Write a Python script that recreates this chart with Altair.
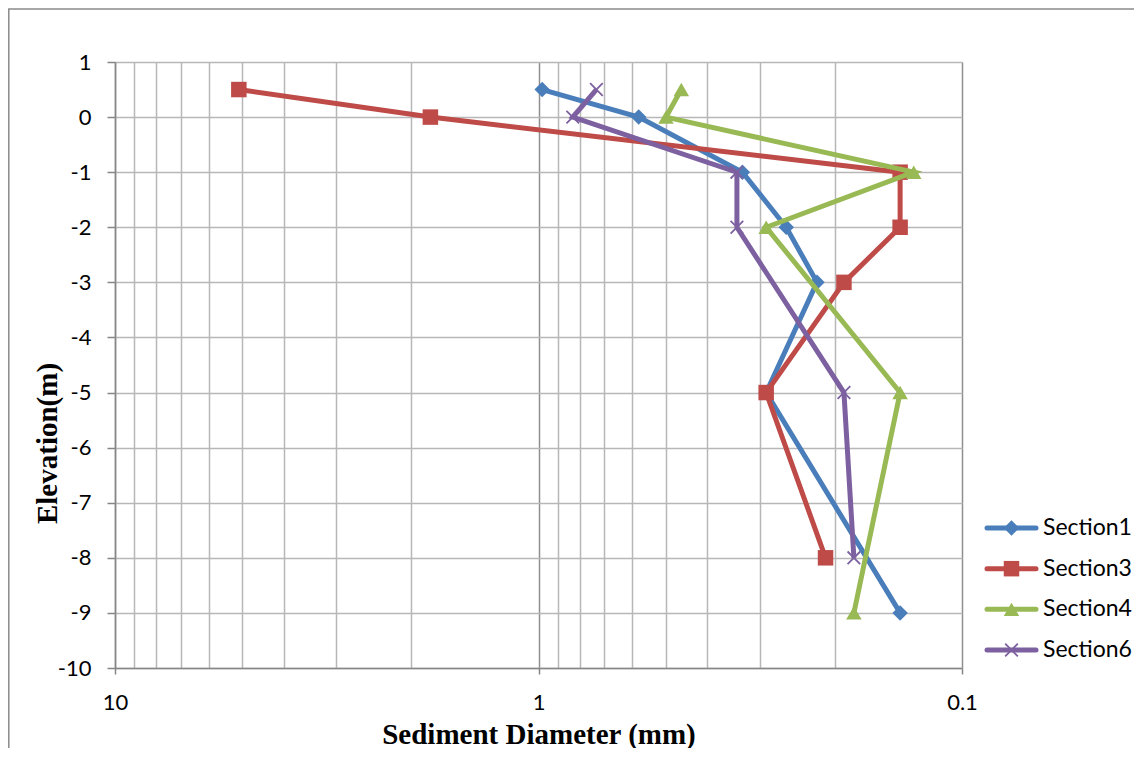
import altair as alt
import pandas as pd

series_names = ["Section1", "Section3", "Section4", "Section6"]
series_colors = ["#4A7EBB", "#BE4B48", "#98B954", "#7D60A0"]
series_shapes = ["diamond", "square", "triangle-up", "M-1,-1L1,1M-1,1L1,-1"]

elev_s1 = [0.5, 0, -1, -2, -3, -5, -9]
diam_s1 = [0.98, 0.58, 0.33, 0.26, 0.22, 0.29, 0.14]
elev_s3 = [0.5, 0, -1, -2, -3, -5, -8]
diam_s3 = [5.1, 1.8, 0.14, 0.14, 0.19, 0.29, 0.21]
elev_s4 = [0.5, 0, -1, -2, -5, -9]
diam_s4 = [0.46, 0.50, 0.13, 0.29, 0.14, 0.18]
elev_s6 = [0.5, 0, -1, -2, -5, -8]
diam_s6 = [0.73, 0.83, 0.34, 0.34, 0.19, 0.18]

x_ticks = [10, 9, 8, 7, 6, 5, 4, 3, 2, 1, 0.9, 0.8, 0.7, 0.6, 0.5, 0.4, 0.3, 0.2, 0.1]
y_ticks = [1, 0, -1, -2, -3, -4, -5, -6, -7, -8, -9, -10]

MAJOR = "abs(log(datum.value)/LN10 - round(log(datum.value)/LN10)) < 0.001"
AXIS_GRAY = "#868686"
GRID_GRAY = "#b7b7b7"

X = alt.X(
    "diam:Q",
    scale=alt.Scale(type="log", domain=[0.1, 10], reverse=True, nice=False),
    axis=alt.Axis(
        values=x_ticks,
        labelExpr="datum.value > 9.9 ? '10' : (datum.value > 0.99 && datum.value < 1.01 ? '1' : (datum.value < 0.101 ? '0.1' : ''))",
        labelOverlap=False,
        labelFlush=False,
        labelFont="Lato",
        labelFontSize=22,
        labelColor="black",
        labelPadding=18,
        tickSize={"condition": {"test": MAJOR, "value": 6}, "value": 0},
        tickColor=AXIS_GRAY,
        tickWidth=1.5,
        domainColor=AXIS_GRAY,
        domainWidth=1.5,
        gridColor={"condition": {"test": MAJOR, "value": "#8f8f8f"}, "value": GRID_GRAY},
        gridWidth=1.5,
        title="Sediment Diameter (mm)",
        titleFont="Liberation Serif",
        titleFontSize=29,
        titleFontWeight="bold",
        titleColor="black",
        titleAlign="center",
        titleBaseline="alphabetic",
        titleX=423.5,
        titleY=75,
    ),
)

Y = alt.Y(
    "elev:Q",
    scale=alt.Scale(domain=[-10, 1], nice=False, zero=False),
    axis=alt.Axis(
        values=y_ticks,
        labelExpr="'' + datum.value",
        labelFont="Lato",
        labelFontSize=22,
        labelColor="black",
        labelPadding=16,
        tickSize=8,
        tickColor=AXIS_GRAY,
        tickWidth=1.5,
        domainColor=AXIS_GRAY,
        domainWidth=1.5,
        gridColor=GRID_GRAY,
        gridWidth=1.5,
        title="Elevation(m)",
        titleFont="Liberation Serif",
        titleFontSize=29,
        titleFontWeight="bold",
        titleColor="black",
        titleAngle=270,
        titleAlign="center",
        titleBaseline="middle",
        titleX=-68,
        titleY=381,
    ),
)

all_elev = [elev_s1, elev_s3, elev_s4, elev_s6]
all_diam = [diam_s1, diam_s3, diam_s4, diam_s6]

def marker(chart, shp, col):
    is_x = shp.startswith("M")
    return chart.mark_point(
        shape=shp,
        filled=True,
        fill=col,
        stroke=col,
        strokeWidth=1.8 if is_x else 0,
        size=160 if is_x else 240,
        opacity=1,
    )

main_layers = []
for name, col, shp, elevs, diams in zip(series_names, series_colors, series_shapes, all_elev, all_diam):
    df = pd.DataFrame({"diam": diams, "elev": elevs, "idx": list(range(len(elevs)))})
    line = alt.Chart(df).mark_line(color=col, strokeWidth=5).encode(
        x=X, y=Y, order="idx:Q"
    )
    pts = marker(alt.Chart(df), shp, col).encode(x=X, y=Y)
    main_layers += [line, pts]

main = alt.layer(*main_layers)

# legend built from the series names
leg_scale = alt.Scale(type="point", domain=series_names, range=[466, 588], padding=0)
leg_layers = []
for name, col, shp in zip(series_names, series_colors, series_shapes):
    ldf = pd.DataFrame({"series": [name]})
    ly = alt.Y("series:N", scale=leg_scale, axis=None)
    rule = alt.Chart(ldf).mark_rule(color=col, strokeWidth=5, strokeCap="round").encode(
        y=ly, x=alt.value(872), x2=alt.value(921)
    )
    sym = marker(alt.Chart(ldf), shp, col).encode(y=ly, x=alt.value(896.5))
    leg_layers += [rule, sym]

leg_text = alt.Chart(pd.DataFrame({"series": series_names})).mark_text(
    align="left", baseline="middle", font="Lato", fontSize=23, color="black"
).encode(
    y=alt.Y("series:N", scale=leg_scale, axis=None),
    x=alt.value(928),
    text="series:N",
)
legend = alt.layer(*leg_layers, leg_text)

border = alt.Chart(alt.Data(values=[{}])).mark_rect(
    fillOpacity=0, stroke="#8a8a8a", strokeWidth=1.5
).encode(
    x=alt.value(-106.2), x2=alt.value(1030), y=alt.value(-53), y2=alt.value(760)
)

chart = alt.layer(border, main, legend).resolve_scale(y="independent").properties(
    width=847,
    height=606,
    autosize=alt.AutoSizeParams(type="none"),
    padding={"left": 107, "top": 54, "right": 172, "bottom": 80},
).configure_view(strokeWidth=0).configure(background="white")

chart.save("out.html", embed_options={"renderer": "svg", "actions": False})
